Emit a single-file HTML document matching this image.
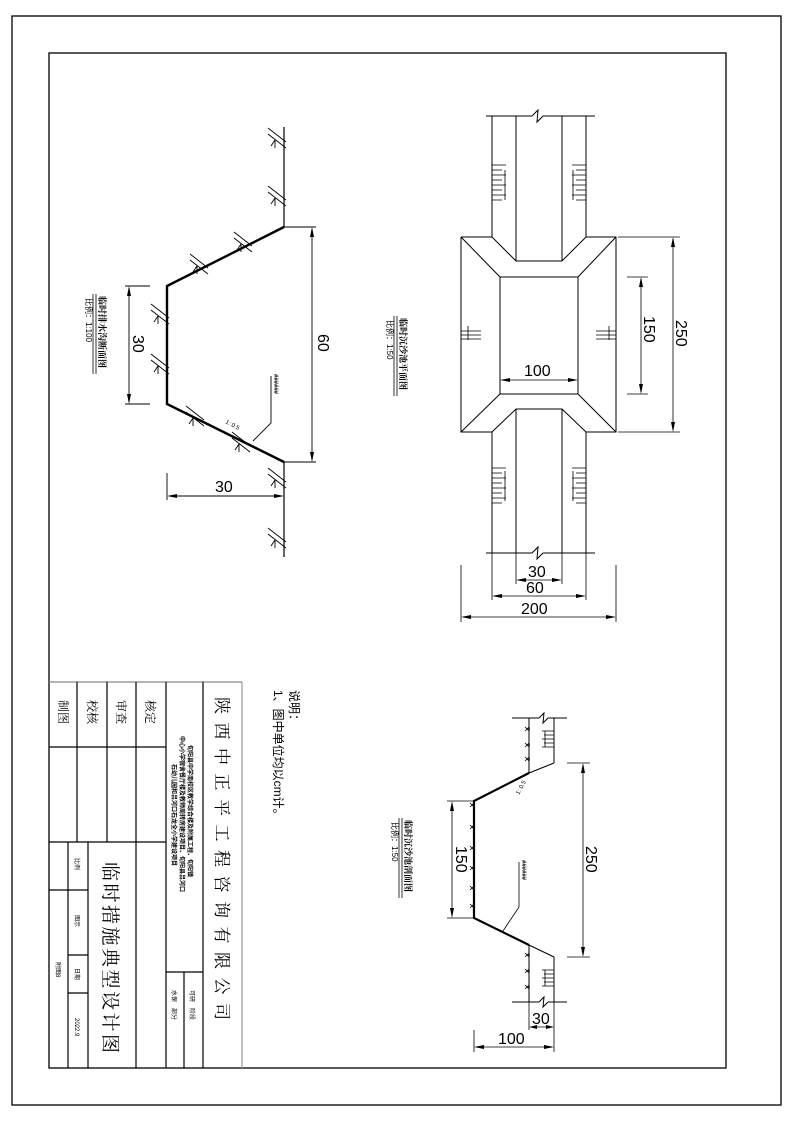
<!DOCTYPE html>
<html><head><meta charset="utf-8"><style>
html,body{margin:0;padding:0;background:#fff}
svg{display:block}
text{font-family:"Liberation Sans","Noto Sans CJK SC",sans-serif;fill:#000}
.cj{font-family:"Noto Serif CJK SC","Noto Sans CJK SC",serif}
</style></head><body>
<svg width="793" height="1122" viewBox="0 0 793 1122" xmlns="http://www.w3.org/2000/svg" stroke="#000" fill="none">
<defs>
<g id="gr" stroke-width="0.9">
<line x1="-16" y1="-12" x2="2" y2="2"/><line x1="-16" y1="-6" x2="2" y2="8"/>
<line x1="-9" y1="0" x2="-13" y2="6"/><line x1="-9" y1="0" x2="-9" y2="8"/>
</g>
<g id="x3" stroke-width="0.8"><line x1="-2" y1="-2" x2="2" y2="2"/><line x1="-2" y1="2" x2="2" y2="-2"/><line x1="0" y1="0" x2="3" y2="0"/></g>
</defs>
<rect x="12" y="16" width="769" height="1089" stroke-width="1.3"/>
<rect x="49" y="53" width="677" height="1015" stroke-width="1.3"/>

<!-- title block -->
<g stroke-width="1.2">
<line x1="49" y1="682" x2="242" y2="682" stroke="#888"/>
<line x1="242" y1="682" x2="242" y2="1068" stroke="#999"/>
<line x1="203" y1="682" x2="203" y2="1068"/>
<line x1="166" y1="682" x2="166" y2="1068"/>
<line x1="136" y1="682" x2="136" y2="1068"/>
<line x1="107" y1="682" x2="107" y2="842"/>
<line x1="77" y1="682" x2="77" y2="842"/>
<line x1="88" y1="842" x2="88" y2="1068"/>
<line x1="68" y1="842" x2="68" y2="1068"/>
<line x1="49" y1="747" x2="166" y2="747"/>
<line x1="49" y1="842" x2="166" y2="842"/>
<line x1="49" y1="890" x2="88" y2="890"/>
<line x1="68" y1="955" x2="88" y2="955"/>
<line x1="68" y1="993" x2="88" y2="993"/>
<line x1="166" y1="972" x2="203" y2="972"/>
<line x1="184" y1="972" x2="184" y2="1068"/>
</g>
<g stroke="none">
<text class="cj" font-size="17" letter-spacing="8.5" transform="translate(216,697) rotate(90)">陕西中正平工程咨询有限公司</text>
<text class="cj" font-size="19" letter-spacing="2.5" transform="translate(104,862) rotate(90)">临时措施典型设计图</text>
<text font-size="6" font-weight="bold" transform="translate(188,745) rotate(90)">旬阳县中学南校区教学综合楼及附属工程、旬阳镇</text>
<text font-size="6" font-weight="bold" transform="translate(180,736) rotate(90)">中心小学宿舍餐厅楼及教师周转房建设项目、旬阳县吕河口</text>
<text font-size="6" font-weight="bold" transform="translate(172,764) rotate(90)">石幼儿园和吕河口石龙全小学建设项目</text>
<text font-size="6" transform="translate(190,990) rotate(90)">可研　阶段</text>
<text font-size="6" transform="translate(172,990) rotate(90)">水保　部分</text>
<text class="cj" font-size="12" transform="translate(146,700) rotate(90)">核定</text>
<text class="cj" font-size="12" transform="translate(117,700) rotate(90)">审查</text>
<text class="cj" font-size="12" transform="translate(88,700) rotate(90)">校核</text>
<text class="cj" font-size="12" transform="translate(59,700) rotate(90)">制图</text>
<text font-size="6" transform="translate(75,858) rotate(90)">比例</text>
<text font-size="6" transform="translate(75,915) rotate(90)">图示</text>
<text font-size="6" transform="translate(75,968) rotate(90)">日期</text>
<text font-size="6" transform="translate(75,1018) rotate(90)">2022.9</text>
<text font-size="6" transform="translate(56,962) rotate(90)">附图8</text>
<text font-size="12" transform="translate(290,690) rotate(90)">说明：</text>
<text font-size="12" transform="translate(274,690) rotate(90)">1、图中单位均以cm计。</text>
</g>

<!-- drawing 1 -->
<g>
<line x1="284" y1="127" x2="284" y2="227" stroke-width="1.2"/>
<line x1="284" y1="462" x2="284" y2="557" stroke-width="1.2"/>
<polyline points="284,227 167,286 167,404 284,462" stroke-width="2.4"/>
<g stroke-width="0.9">
<line x1="312" y1="229" x2="312" y2="460"/><line x1="284" y1="227" x2="316" y2="227"/><line x1="284" y1="462" x2="316" y2="462"/>
<line x1="129" y1="288" x2="129" y2="402"/><line x1="125" y1="286" x2="150" y2="286"/><line x1="125" y1="404" x2="150" y2="404"/>
<line x1="169" y1="496" x2="282" y2="496"/><line x1="167" y1="473" x2="167" y2="500"/>
<polyline points="253,441 271,423 271,376"/>
</g>
<g fill="#000" stroke="none">
<polygon points="312,227 310,237 314,237"/><polygon points="312,462 310,452 314,452"/>
<polygon points="129,286 127,296 131,296"/><polygon points="129,404 127,394 131,394"/>
<polygon points="167,496 177,494 177,498"/><polygon points="284,496 274,494 274,498"/>
</g>
<use href="#gr" x="284" y="140"/><use href="#gr" x="284" y="198"/>
<use href="#gr" x="284" y="480"/><use href="#gr" x="284" y="540"/>
<use href="#gr" x="167" y="316"/><use href="#gr" x="167" y="366"/>
<use href="#gr" x="206" y="266"/><use href="#gr" x="250" y="244"/>
<use href="#gr" x="202" y="418"/><use href="#gr" x="248" y="444"/>
<g stroke="none">
<text font-size="16" transform="translate(318,334) rotate(90)">60</text>
<text font-size="16" transform="translate(133,335) rotate(90)">30</text>
<text font-size="16" x="215" y="492">30</text>
<text font-size="6" transform="translate(225,423) rotate(28)">1: 0.5</text>
<text font-size="6" font-weight="bold" transform="translate(274,374) rotate(90)">######</text>
<text class="cj" font-size="9" font-weight="bold" transform="translate(99,296) rotate(90)">临时排水沟断面图</text>
<text font-size="8" transform="translate(86,298) rotate(90)">比例：1:100</text>
</g>
<line x1="96" y1="294" x2="96" y2="374" stroke-width="0.8"/><line x1="93" y1="294" x2="93" y2="374" stroke-width="0.8"/>
</g>

<!-- drawing 2 -->
<g stroke-width="1">
<line x1="486" y1="116" x2="532" y2="116"/><polyline points="532,116 538,110 537,122 543,116"/><line x1="543" y1="116" x2="595" y2="116"/>
<line x1="486" y1="553" x2="532" y2="553"/><polyline points="532,553 538,547 537,559 543,553"/><line x1="543" y1="553" x2="595" y2="553"/>
<line x1="492" y1="116" x2="492" y2="237"/><line x1="586" y1="116" x2="586" y2="237"/>
<line x1="516" y1="116" x2="516" y2="261"/><line x1="562" y1="116" x2="562" y2="261"/>
<line x1="492" y1="432" x2="492" y2="553"/><line x1="586" y1="432" x2="586" y2="553"/>
<line x1="516" y1="409" x2="516" y2="553"/><line x1="562" y1="409" x2="562" y2="553"/>
<polyline points="461,237 492,237 516,261 562,261 586,237 616,237 616,432 586,432 562,409 516,409 492,432 461,432 461,237"/>
<rect x="500" y="277" width="78" height="117"/>
<line x1="461" y1="237" x2="500" y2="277"/><line x1="616" y1="237" x2="578" y2="277"/>
<line x1="461" y1="432" x2="500" y2="394"/><line x1="616" y1="432" x2="578" y2="394"/>
</g>
<g stroke-width="0.8">
<path d="M492 165h14M492 170h10M492 175h14M492 180h10M492 185h14M492 190h10M492 195h14M492 200h10M505 170v30"/>
<path d="M586 165h-14M586 170h-10M586 175h-14M586 180h-10M586 185h-14M586 190h-10M586 195h-14M586 200h-10M573 170v30"/>
<path d="M492 468h14M492 473h10M492 478h14M492 483h10M492 488h14M492 493h10M492 498h14M492 503h10M505 471v30"/>
<path d="M586 468h-14M586 473h-10M586 478h-14M586 483h-10M586 488h-14M586 493h-10M586 498h-14M586 503h-10M573 471v30"/>
<path d="M461 331h20M461 335h20M461 339h20M468 326v14"/>
<path d="M616 331h-20M616 335h-20M616 339h-20M609 326v14"/>
<line x1="673" y1="239" x2="673" y2="430"/><line x1="618" y1="237" x2="680" y2="237"/><line x1="618" y1="432" x2="680" y2="432"/>
<line x1="641" y1="279" x2="641" y2="392"/><line x1="627" y1="277" x2="648" y2="277"/><line x1="627" y1="394" x2="648" y2="394"/>
<line x1="502" y1="380" x2="576" y2="380"/>
<line x1="518" y1="580" x2="560" y2="580"/><line x1="494" y1="596" x2="584" y2="596"/><line x1="463" y1="617" x2="614" y2="617"/>
<line x1="516" y1="553" x2="516" y2="584"/><line x1="562" y1="553" x2="562" y2="584"/>
<line x1="492" y1="553" x2="492" y2="600"/><line x1="586" y1="553" x2="586" y2="600"/>
<line x1="461" y1="565" x2="461" y2="622"/><line x1="616" y1="565" x2="616" y2="622"/>
</g>
<g fill="#000" stroke="none">
<polygon points="673,237 671,247 675,247"/><polygon points="673,432 671,422 675,422"/>
<polygon points="641,277 639,287 643,287"/><polygon points="641,394 639,384 643,384"/>
<polygon points="500,380 510,378 510,382"/><polygon points="578,380 568,378 568,382"/>
<polygon points="516,580 526,578 526,582"/><polygon points="562,580 552,578 552,582"/>
<polygon points="492,596 502,594 502,598"/><polygon points="586,596 576,594 576,598"/>
<polygon points="461,617 471,615 471,619"/><polygon points="616,617 606,615 606,619"/>
<text font-size="16" transform="translate(676,320) rotate(90)">250</text>
<text font-size="16" transform="translate(644,316) rotate(90)">150</text>
<text font-size="16" x="524" y="376">100</text>
<text font-size="16" x="528" y="577">30</text>
<text font-size="16" x="526" y="593">60</text>
<text font-size="16" x="521" y="614">200</text>
<text class="cj" font-size="9" font-weight="bold" transform="translate(400,318) rotate(90)">临时沉沙池平面图</text>
<text font-size="8" transform="translate(387,320) rotate(90)">比例：1:50</text>
</g>
<line x1="397" y1="316" x2="397" y2="396" stroke-width="0.8"/><line x1="394" y1="316" x2="394" y2="396" stroke-width="0.8"/>

<!-- drawing 3 -->
<g stroke-width="1">
<line x1="512" y1="718" x2="539" y2="718"/><polyline points="539,718 544,713 543,723 548,718"/><line x1="548" y1="718" x2="567" y2="718"/>
<line x1="512" y1="1002" x2="539" y2="1002"/><polyline points="539,1002 544,997 543,1007 548,1002"/><line x1="548" y1="1002" x2="567" y2="1002"/>
<line x1="529" y1="718" x2="529" y2="773"/><line x1="554" y1="718" x2="554" y2="763"/>
<line x1="529" y1="945" x2="529" y2="1002"/><line x1="554" y1="957" x2="554" y2="1002"/>
<line x1="554" y1="763" x2="529" y2="773"/><line x1="529" y1="945" x2="554" y2="957"/>
</g>
<polyline points="529,773 474,801 474,918 529,945" stroke-width="2.2"/>
<g stroke-width="0.8">
<path d="M554 731h-12M554 735h-10M554 739h-12M554 743h-10M554 747h-12M545 731v16"/>
<path d="M554 970h-12M554 974h-10M554 978h-12M554 982h-10M554 986h-12M545 970v16"/>
<line x1="452" y1="803" x2="452" y2="916"/><line x1="447" y1="801" x2="474" y2="801"/><line x1="447" y1="918" x2="474" y2="918"/>
<line x1="583" y1="765" x2="583" y2="955"/><line x1="567" y1="763" x2="590" y2="763"/><line x1="567" y1="957" x2="590" y2="957"/>
<line x1="531" y1="1027" x2="552" y2="1027"/><line x1="476" y1="1047" x2="552" y2="1047"/>
<line x1="474" y1="1030" x2="474" y2="1052"/><line x1="529" y1="1002" x2="529" y2="1030"/><line x1="554" y1="1002" x2="554" y2="1052"/>
<polyline points="503,931 519,907 519,862"/>
</g>
<use href="#x3" x="527" y="729"/><use href="#x3" x="527" y="745"/><use href="#x3" x="527" y="759"/>
<use href="#x3" x="527" y="955"/><use href="#x3" x="527" y="971"/><use href="#x3" x="527" y="987"/>
<use href="#x3" x="472" y="805"/><use href="#x3" x="472" y="827"/><use href="#x3" x="472" y="848"/><use href="#x3" x="472" y="868"/><use href="#x3" x="472" y="888"/><use href="#x3" x="472" y="906"/>
<g fill="#000" stroke="none">
<polygon points="452,801 450,811 454,811"/><polygon points="452,918 450,908 454,908"/>
<polygon points="583,763 581,773 585,773"/><polygon points="583,957 581,947 585,947"/>
<polygon points="529,1027 537,1025 537,1029"/><polygon points="554,1027 546,1025 546,1029"/>
<polygon points="474,1047 484,1045 484,1049"/><polygon points="554,1047 544,1045 544,1049"/>
<text font-size="16" transform="translate(456,846) rotate(90)">150</text>
<text font-size="16" transform="translate(586,846) rotate(90)">250</text>
<text font-size="16" x="532" y="1024">30</text>
<text font-size="16" x="498" y="1044">100</text>
<text font-size="6" transform="translate(519,795) rotate(-62)">1: 0.5</text>
<text font-size="6" font-weight="bold" transform="translate(522,860) rotate(90)">######</text>
<text class="cj" font-size="9" font-weight="bold" transform="translate(405,820) rotate(90)">临时沉沙池剖面图</text>
<text font-size="8" transform="translate(392,822) rotate(90)">比例：1:50</text>
</g>
<line x1="402" y1="818" x2="402" y2="898" stroke-width="0.8"/><line x1="399" y1="818" x2="399" y2="898" stroke-width="0.8"/>
</svg>
</body></html>
